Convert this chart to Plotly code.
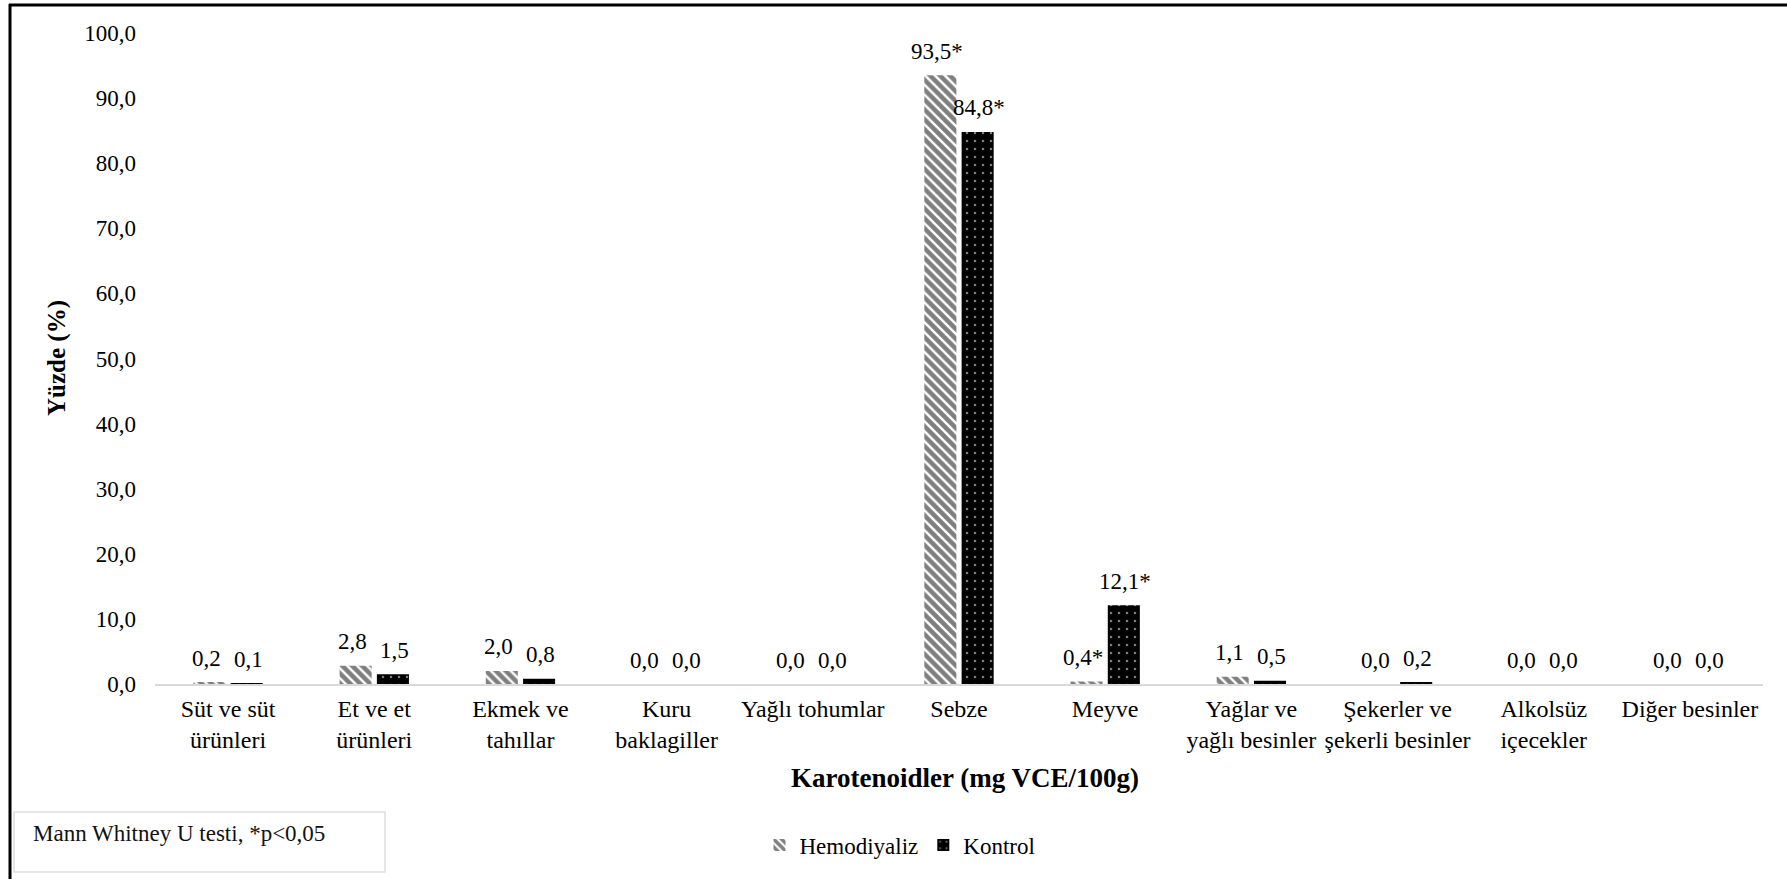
import plotly.graph_objects as go

# Food groups on the x axis (line breaks as shown under each group)
categories = [
    "Süt ve süt<br>ürünleri",
    "Et ve et<br>ürünleri",
    "Ekmek ve<br>tahıllar",
    "Kuru<br>baklagiller",
    "Yağlı tohumlar",
    "Sebze",
    "Meyve",
    "Yağlar ve<br>yağlı besinler",
    "Şekerler ve<br>şekerli besinler",
    "Alkolsüz<br>içecekler",
    "Diğer besinler",
]

# Percentage contribution to carotenoid intake
hemodiyaliz = [0.2, 2.8, 2.0, 0.0, 0.0, 93.5, 0.4, 1.1, 0.0, 0.0, 0.0]
kontrol = [0.1, 1.5, 0.8, 0.0, 0.0, 84.8, 12.1, 0.5, 0.2, 0.0, 0.0]

# Significant differences (Mann Whitney U, p<0.05)
hemodiyaliz_sig = [False, False, False, False, False, True, True, False, False, False, False]
kontrol_sig = [False, False, False, False, False, True, True, False, False, False, False]

y_ticks = [0, 10, 20, 30, 40, 50, 60, 70, 80, 90, 100]

FONT = "Liberation Serif"
W, H = 1787, 879
L, R, T, B = 155, 1763, 33, 684  # plot area in pixels


def px(x):
    return (x - L) / (R - L)


def py(y):
    return (B - y) / (B - T)


def fmt(v, star):
    return f"{v:.1f}".replace(".", ",") + ("*" if star else "")


fig = go.Figure()
fig.add_trace(go.Bar(
    name="Hemodiyaliz",
    x=categories,
    y=hemodiyaliz,
    marker=dict(
        color="white",
        line=dict(width=0),
        pattern=dict(shape="\\", fgcolor="black", bgcolor="white", size=7, solidity=0.65),
    ),
))
fig.add_trace(go.Bar(
    name="Kontrol",
    x=categories,
    y=kontrol,
    marker=dict(
        color="black",
        line=dict(width=0),
        pattern=dict(shape=".", fgcolor="white", bgcolor="black", size=8, solidity=0.08),
    ),
))

annotations = []
# value labels above each bar
for cat, v, s in zip(categories, hemodiyaliz, hemodiyaliz_sig):
    annotations.append(dict(x=cat, y=v, xref="x", yref="y", text=fmt(v, s),
                            showarrow=False, xshift=-22, yshift=24, yanchor="middle",
                            font=dict(family=FONT, size=23, color="black")))
for cat, v, s in zip(categories, kontrol, kontrol_sig):
    annotations.append(dict(x=cat, y=v, xref="x", yref="y", text=fmt(v, s),
                            showarrow=False, xshift=20, yshift=24, yanchor="middle",
                            font=dict(family=FONT, size=23, color="black")))

# axis titles
annotations.append(dict(x=px(965), y=py(778), xref="paper", yref="paper",
                        text="<b>Karotenoidler (mg VCE/100g)</b>", showarrow=False,
                        xanchor="center", yanchor="middle",
                        font=dict(family=FONT, size=27, color="black")))
annotations.append(dict(x=px(57), y=py(358), xref="paper", yref="paper",
                        text="<b>Yüzde (%)</b>", showarrow=False, textangle=-90,
                        xanchor="center", yanchor="middle",
                        font=dict(family=FONT, size=25, color="black")))
# footnote
annotations.append(dict(x=px(31), y=py(833), xref="paper", yref="paper",
                        text="Mann Whitney U testi, *p<0,05", showarrow=False,
                        xanchor="left", yanchor="middle",
                        font=dict(family=FONT, size=23, color="#111111")))

shapes = [
    # outer frame: left and top edges
    dict(type="line", xref="paper", yref="paper", x0=px(10), x1=px(10), y0=py(4), y1=py(H + 5),
         line=dict(color="black", width=3)),
    dict(type="line", xref="paper", yref="paper", x0=px(9), x1=px(W + 5), y0=py(5), y1=py(5),
         line=dict(color="black", width=3)),
    # footnote box
    dict(type="rect", xref="paper", yref="paper", x0=px(14), x1=px(385), y0=py(812), y1=py(872),
         line=dict(color="#dedede", width=1.5), fillcolor="white", layer="below"),
]

fig.update_layout(
    width=W, height=H,
    margin=dict(l=L, r=W - R, t=T, b=H - B),
    paper_bgcolor="white", plot_bgcolor="white",
    separators=",.",
    barmode="group", bargap=0.49, bargroupgap=0.14,
    font=dict(family=FONT, size=23, color="black"),
    showlegend=True,
    legend=dict(orientation="h", x=px(900), y=py(845), xanchor="center", yanchor="middle",
                font=dict(family=FONT, size=23, color="black"),
                itemwidth=30, tracegroupgap=0, bgcolor="rgba(0,0,0,0)"),
    annotations=annotations,
    shapes=shapes,
)
fig.update_xaxes(
    showline=True, linecolor="#d9d9d9", linewidth=2,
    showgrid=False, ticks="", ticklabelstandoff=2,
    tickfont=dict(family=FONT, size=24, color="black"),
)
fig.update_yaxes(
    range=[0, 100], tickvals=y_ticks, tickformat=".1f",
    showline=False, showgrid=False, zeroline=False, ticks="",
    ticklabelstandoff=18,
    tickfont=dict(family=FONT, size=23, color="black"),
)

fig.write_html("out.html")
